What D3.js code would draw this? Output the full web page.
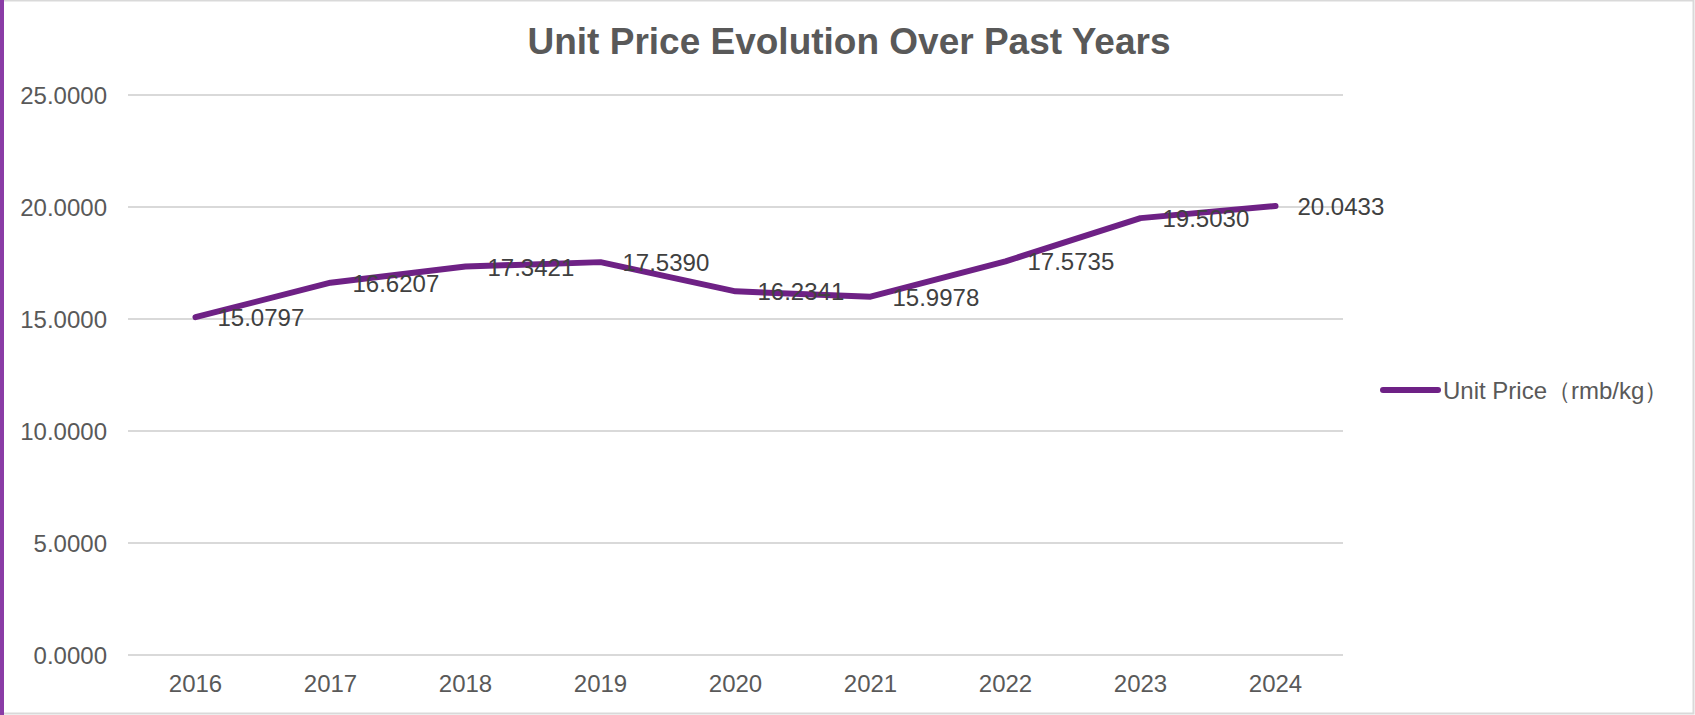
<!DOCTYPE html>
<html lang="en">
<head>
  <meta charset="UTF-8">
  <title>Unit Price Evolution Over Past Years</title>
  <script src="https://d3js.org/d3.v7.min.js"></script>
  <style>
    body { margin: 0; background: #fff; }
    svg { display: block; font-family: "Liberation Sans", Arial, sans-serif; }
    .grid line { stroke: #d9d9d9; stroke-width: 2; }
    .axis text { font-size: 24px; fill: #595959; }
    .label { font-size: 24px; fill: #404040; }
    .title { font-size: 37px; font-weight: bold; fill: #595959; text-anchor: middle; }
  </style>
</head>
<body>
  <div id="chart"></div>
  <script>
    // chart data
    const years = ["2016", "2017", "2018", "2019", "2020", "2021", "2022", "2023", "2024"];
    const prices = [15.0797, 16.6207, 17.3421, 17.5390, 16.2341, 15.9978, 17.5735, 19.5030, 20.0433];
    const yTicks = [0, 5, 10, 15, 20, 25];
    const seriesName = "Unit Price（rmb/kg）";

    const W = 1695, H = 715;
    const margin = { top: 95, right: 352, bottom: 60, left: 128 },
          width = W - margin.left - margin.right,
          height = H - margin.top - margin.bottom;

    const root = d3.select("#chart")
                   .append("svg")
                   .attr("width", W)
                   .attr("height", H);

    // frame
    root.append("rect")
        .attr("x", 0.5).attr("y", 0.5)
        .attr("width", W - 2).attr("height", H - 2)
        .attr("fill", "none")
        .attr("stroke", "#d9d9d9")
        .attr("stroke-width", 2);
    root.append("rect")
        .attr("x", 0).attr("y", 0)
        .attr("width", 4).attr("height", H)
        .attr("fill", "#8a3ca6");

    root.append("text")
        .attr("class", "title")
        .attr("x", 849)
        .attr("y", 54)
        .text("Unit Price Evolution Over Past Years");

    const svg = root.append("g")
                    .attr("transform", `translate(${margin.left},${margin.top})`);

    const x = d3.scaleBand()
                .domain(years)
                .range([0, width]);

    const y = d3.scaleLinear()
                .domain([0, 25])
                .range([height, 0]);

    // gridlines
    svg.append("g")
       .attr("class", "grid")
       .selectAll("line")
       .data(yTicks)
       .enter()
       .append("line")
       .attr("x1", 0)
       .attr("x2", width)
       .attr("y1", d => y(d))
       .attr("y2", d => y(d));

    // y axis
    const yAxis = svg.append("g")
       .attr("class", "axis")
       .call(d3.axisLeft(y).tickValues(yTicks).tickFormat(d3.format(".4f")).tickSize(0).tickPadding(21));
    yAxis.select(".domain").remove();
    yAxis.selectAll("text").attr("dy", "0.37em");

    // x axis
    const xAxis = svg.append("g")
       .attr("class", "axis")
       .attr("transform", `translate(0,${height})`)
       .call(d3.axisBottom(x).tickSize(0).tickPadding(20));
    xAxis.select(".domain").remove();

    // line
    const line = d3.line()
                   .x((d, i) => x(years[i]) + x.bandwidth() / 2)
                   .y(d => y(d));

    svg.append("path")
       .datum(prices)
       .attr("fill", "none")
       .attr("stroke", "#6e2185")
       .attr("stroke-width", 6)
       .attr("stroke-linejoin", "round")
       .attr("stroke-linecap", "round")
       .attr("d", line);

    // data labels
    svg.selectAll(".label")
       .data(prices)
       .enter()
       .append("text")
       .attr("class", "label")
       .attr("x", (d, i) => x(years[i]) + x.bandwidth() / 2 + 22)
       .attr("y", d => y(d) + 9)
       .text(d => d.toFixed(4));

    // legend
    const legend = root.append("g").attr("transform", "translate(1383,390)");
    legend.append("line")
          .attr("x1", 0).attr("x2", 55)
          .attr("stroke", "#6e2185")
          .attr("stroke-width", 6)
          .attr("stroke-linecap", "round");
    legend.append("text")
          .attr("x", 60)
          .attr("y", 9)
          .attr("font-size", 24)
          .attr("fill", "#595959")
          .text(seriesName);
  </script>
</body>
</html>
